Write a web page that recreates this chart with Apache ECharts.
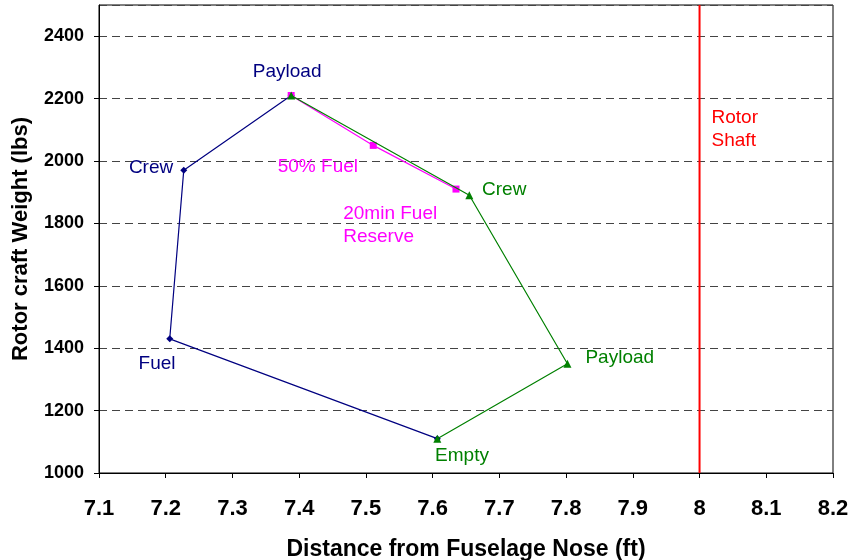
<!DOCTYPE html>
<html>
<head>
<meta charset="utf-8">
<script src="https://cdn.jsdelivr.net/npm/echarts@6/dist/echarts.min.js"></script>
<style>
  html, body { margin: 0; padding: 0; background: #fff; }
  #chart { width: 854px; height: 560px; }
</style>
</head>
<body>
<div id="chart"></div>
<script>
// loading path (empty -> fuel -> crew -> payload)
var blueX = [7.607, 7.206, 7.227, 7.388];
var blueY = [1110, 1430, 1970, 2210];
// loading path (empty -> payload -> crew -> full)
var greenX = [7.607, 7.802, 7.655, 7.388];
var greenY = [1110, 1350, 1890, 2210];
// fuel burn (full -> 50% -> 20min reserve)
var pinkX = [7.388, 7.511, 7.635];
var pinkY = [2210, 2050, 1910];
var rotorShaftX = 8;

// annotation texts
var blueTexts = [['Payload', 7.382, 2285], ['Crew', 7.178, 1979], ['Fuel', 7.187, 1350]];
var greenTexts = [['Crew', 7.674, 1909], ['Payload', 7.829, 1369]];
var greenCenterTexts = [['Empty', 7.644, 1055]];
var pinkTexts = [['50% Fuel', 7.428, 1983]];
var pinkLeftTexts = [['20min Fuel\nReserve', 7.466, 1793]];
var redTexts = [['Rotor\nShaft', 8.018, 2101]];

function pts(xs, ys) {
  var out = [];
  for (var i = 0; i < xs.length; i++) out.push([xs[i], ys[i]]);
  return out;
}

function textSeries(list, color, align) {
  return {
    type: 'scatter',
    symbolSize: 0,
    silent: true,
    z: 5,
    itemStyle: { opacity: 1 },
    data: list.map(function (t) { return { value: [t[1], t[2]], name: t[0] }; }),
    label: {
      show: true,
      position: 'inside',
      formatter: function (p) { return p.name; },
      color: color,
      opacity: 1,
      textBorderWidth: 0,
      fontFamily: 'Liberation Sans',
      fontSize: 19,
      lineHeight: 23,
      align: align
    }
  };
}

var chart = echarts.init(document.getElementById('chart'));

var option = {
  animation: false,
  grid: {
    left: 99, right: 21, top: 5, bottom: 87,
    outerBoundsMode: 'none',
    show: true, borderColor: '#000', borderWidth: 1
  },
  xAxis: {
    type: 'value',
    min: 7.1, max: 8.2, interval: 0.1,
    name: 'Distance from Fuselage Nose (ft)',
    nameLocation: 'middle',
    nameGap: 65,
    nameTextStyle: { fontFamily: 'Liberation Sans', fontWeight: 'bold', fontSize: 23, color: '#000' },
    axisLine: { lineStyle: { color: '#000' } },
    axisTick: { show: true, length: 5, lineStyle: { color: '#000' } },
    axisLabel: { fontFamily: 'Liberation Sans', fontWeight: 'bold', fontSize: 22, color: '#000', margin: 25 },
    splitLine: { show: false }
  },
  yAxis: {
    type: 'value',
    min: 1000, max: 2500, interval: 200,
    name: 'Rotor craft Weight (lbs)',
    nameLocation: 'middle',
    nameRotate: 90,
    nameGap: 67,
    nameTextStyle: { fontFamily: 'Liberation Sans', fontWeight: 'bold', fontSize: 22, color: '#000' },
    axisLine: { lineStyle: { color: '#000' } },
    axisTick: { show: true, length: 5, lineStyle: { color: '#000' } },
    axisLabel: {
      fontFamily: 'Liberation Sans', fontWeight: 'bold', fontSize: 18, color: '#000', margin: 15,
      showMaxLabel: false,
      formatter: function (v) { return String(v); }
    },
    splitLine: { show: true, lineStyle: { color: '#444', type: [8, 5], width: 1 } }
  },
  series: [
    {
      type: 'line',
      data: pts(blueX, blueY),
      symbol: 'diamond', symbolSize: 7,
      lineStyle: { color: '#000080', width: 1.2 },
      itemStyle: { color: '#000080' },
      z: 3
    },
    {
      type: 'line',
      data: pts(greenX, greenY),
      symbol: 'triangle', symbolSize: 8,
      lineStyle: { color: '#008000', width: 1.2 },
      itemStyle: { color: '#008000' },
      z: 4
    },
    {
      type: 'line',
      data: pts(pinkX, pinkY),
      symbol: 'rect', symbolSize: 7,
      lineStyle: { color: '#ff00ff', width: 1.2 },
      itemStyle: { color: '#ff00ff' },
      z: 3
    },
    {
      type: 'line',
      data: [[rotorShaftX, 1000], [rotorShaftX, 2500]],
      symbol: 'none',
      lineStyle: { color: '#ff0000', width: 2 },
      z: 2
    },
    textSeries(blueTexts, '#000080', 'center'),
    textSeries(greenTexts, '#008000', 'left'),
    textSeries(greenCenterTexts, '#008000', 'center'),
    textSeries(pinkTexts, '#ff00ff', 'center'),
    textSeries(pinkLeftTexts, '#ff00ff', 'left'),
    textSeries(redTexts, '#ff0000', 'left')
  ]
};

chart.setOption(option);
</script>
</body>
</html>
